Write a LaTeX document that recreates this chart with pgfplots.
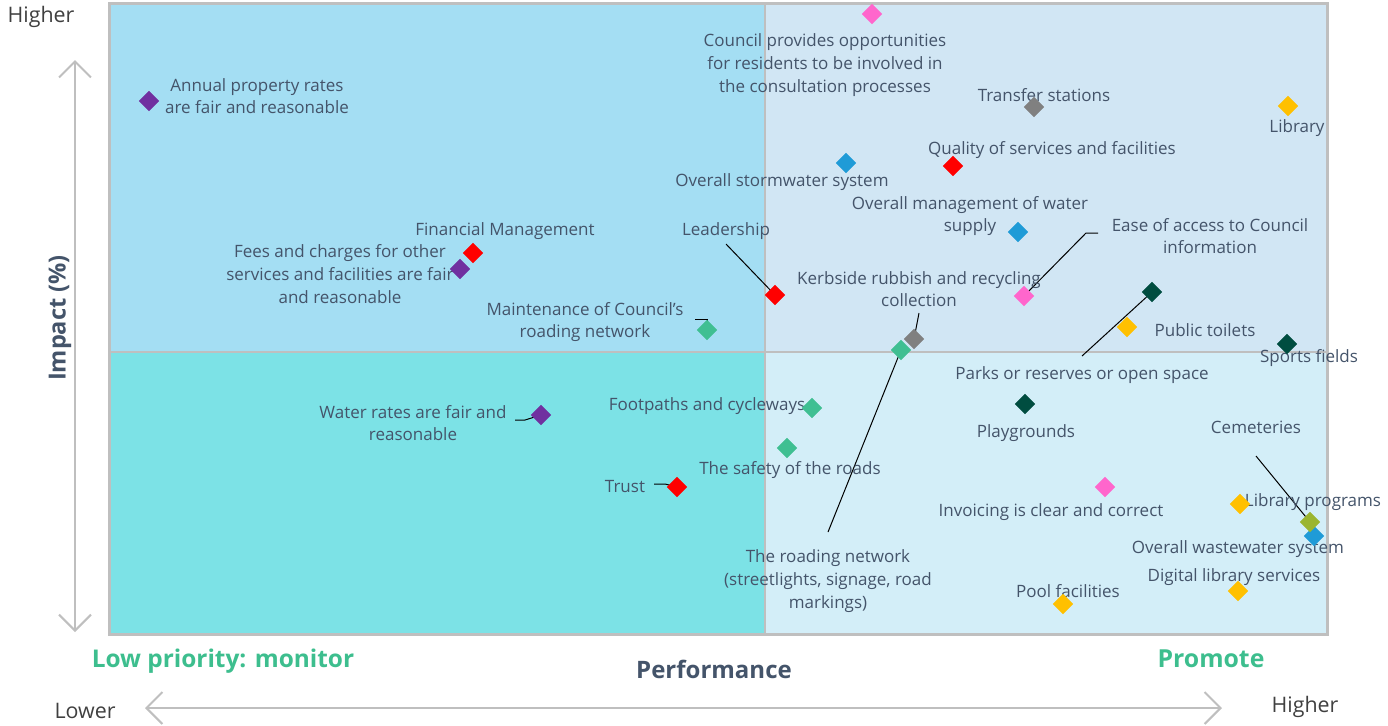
\documentclass[border=0pt]{standalone}
\usepackage{pgfplots}
\pgfplotsset{compat=1.18}
\usepackage{fontspec}
\setmainfont{Open Sans}
\usetikzlibrary{arrows.meta}

\definecolor{txt}{HTML}{44546A}
\definecolor{qTL}{HTML}{A4DEF3}
\definecolor{qBL}{HTML}{7CE2E6}
\definecolor{qTR}{HTML}{D1E6F4}
\definecolor{qBR}{HTML}{D3EEF8}
\definecolor{frame}{HTML}{BFBFBF}
\definecolor{cPurple}{HTML}{7030A0}
\definecolor{cRed}{HTML}{FF0000}
\definecolor{cPink}{HTML}{FF66CC}
\definecolor{cGray}{HTML}{808080}
\definecolor{cGold}{HTML}{FFC000}
\definecolor{cBlue}{HTML}{1F9BD7}
\definecolor{cGreen}{HTML}{3FBF92}
\definecolor{cTeal}{HTML}{004D40}
\definecolor{cOlive}{HTML}{9BB530}
\definecolor{cLow}{HTML}{3DBE8E}

\tikzset{
  lab/.style={font=\fontsize{8.5}{11.3}\selectfont, text=txt, align=center, inner sep=0pt, yshift=-1pt},
  lead/.style={black, line width=0.5pt},
}

\begin{document}
\begin{tikzpicture}
\begin{axis}[
    scale only axis, width=694pt, height=361.5pt,
    xmin=0, xmax=1388, ymin=0, ymax=723, y dir=reverse,
    hide axis, clip=false,
    every axis plot/.append style={only marks, mark=square*, mark size=3.4pt,
        mark options={rotate=45}},
]
% whole canvas
\path (0,0) rectangle (1388,723);
% quadrants
\fill[qTL] (109,3) rectangle (765,352);
\fill[qTR] (765,3) rectangle (1327,352);
\fill[qBL] (109,352) rectangle (765,634);
\fill[qBR] (765,352) rectangle (1327,634);
\draw[frame, line width=1pt] (765,3) -- (765,634);
\draw[frame, line width=1pt] (109,352) -- (1327,352);
\draw[frame, line width=1.5pt] (109,3) rectangle (1327,634);

% leader lines
\draw[lead] (726,244) -- (775,295);
\draw[lead] (1098,233) -- (1086,233) -- (1024,296);
\draw[lead] (919,313) -- (914,339);
\draw[lead] (695,319) -- (707,319) -- (707,330);
\draw[lead] (1082,356) -- (1152,292);
\draw[lead] (828,532) -- (901,350);
\draw[lead] (515,420) -- (525,420) -- (541,415);
\draw[lead] (654,484) -- (665,484) -- (677,487);
\draw[lead] (1256,456) -- (1310,522);

% data
\addplot[color=cPurple] coordinates {(149,101) (460,269) (541,415)};
\addplot[color=cRed] coordinates {(953,166) (473,253) (775,295) (677,487)};
\addplot[color=cPink] coordinates {(872,14) (1024,296) (1105,487)};
\addplot[color=cGray] coordinates {(1034,107) (914,339)};
\addplot[color=cGold] coordinates {(1288,106) (1127,327) (1240,504) (1238,591) (1063,604)};
\addplot[color=cBlue] coordinates {(846,163) (1018,232) (1314,536)};
\addplot[color=cGreen] coordinates {(707,330) (901,350) (812,408) (787,448)};
\addplot[color=cTeal] coordinates {(1152,292) (1287,344) (1025,404)};
\addplot[color=cOlive] coordinates {(1310,522)};

% labels
\node[lab] at (257,94) {Annual property rates\\are fair and reasonable};
\node[lab] at (825,63) {Council provides opportunities\\for residents to be involved in\\the consultation processes};
\node[lab] at (1044,93) {Transfer stations};
\node[lab] at (1297,126) {Library};
\node[lab] at (1052,148) {Quality of services and facilities};
\node[lab] at (782,180) {Overall stormwater system};
\node[lab] at (970,214) {Overall management of water\\supply};
\node[lab] at (505,229) {Financial Management};
\node[lab] at (340,272) {Fees and charges for other\\services and facilities are fair\\and reasonable};
\node[lab] at (726,229) {Leadership};
\node[lab] at (1210,234) {Ease of access to Council\\information};
\node[lab] at (919,287) {Kerbside rubbish and recycling\\collection};
\node[lab] at (585,320) {Maintenance of Council's\\roading network};
\node[lab] at (1205,328) {Public toilets};
\node[lab] at (1082,373) {Parks or reserves or open space};
\node[lab] at (1309,356) {Sports fields};
\node[lab] at (828,579) {The roading network\\(streetlights, signage, road\\markings)};
\node[lab] at (707,404) {Footpaths and cycleways};
\node[lab] at (413,421) {Water rates are fair and\\reasonable};
\node[lab] at (1026,431) {Playgrounds};
\node[lab] at (790,468) {The safety of the roads};
\node[lab] at (625,485) {Trust};
\node[lab] at (1256,425) {Cemeteries};
\node[lab] at (1051,510) {Invoicing is clear and correct};
\node[lab] at (1313,500) {Library programs};
\node[lab] at (1238,547) {Overall wastewater system};
\node[lab] at (1234,575) {Digital library services};
\node[lab] at (1068,589) {Pool facilities};

% axis annotations
\draw[frame, line width=1pt, {Straight Barb[length=8pt,width=16pt]}-{Straight Barb[length=8pt,width=16pt]}] (75,60) -- (75,632);
\draw[frame, line width=1pt, {Straight Barb[length=8pt,width=16pt]}-{Straight Barb[length=8pt,width=16pt]}] (145,708) -- (1222,708);
\node[font=\fontsize{10.7}{12}\selectfont, text=black!75, inner sep=0pt] at (41,17) {Higher};
\node[font=\fontsize{10.7}{12}\selectfont, text=black!75, inner sep=0pt] at (85,711) {Lower};
\node[font=\fontsize{10.7}{12}\selectfont, text=black!75, inner sep=0pt] at (1305,707) {Higher};
\node[font=\bfseries\fontsize{11.8}{13}\selectfont, text=txt, rotate=90, inner sep=0pt] at (60,318) {Impact (\%)};
\node[font=\bfseries\fontsize{12}{13}\selectfont, text=txt, inner sep=0pt] at (714,669) {Performance};
\node[font=\bfseries\fontsize{12.2}{13}\selectfont, text=cLow, inner sep=0pt] at (223,661) {Low priority: monitor};
\node[font=\bfseries\fontsize{12.4}{13}\selectfont, text=cLow, inner sep=0pt] at (1211,659) {Promote};
\end{axis}
\end{tikzpicture}
\end{document}
